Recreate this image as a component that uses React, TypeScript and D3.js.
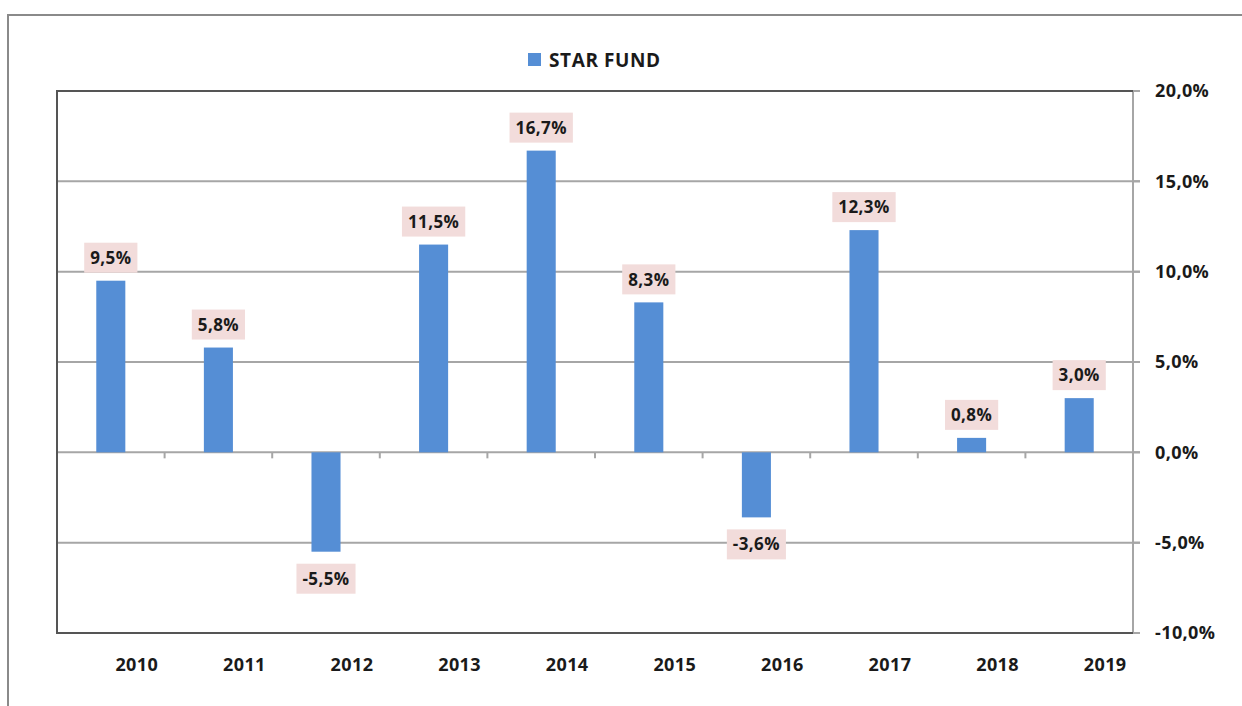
import React, { useEffect, useRef } from "react";
import * as d3 from "d3";

const years = ["2010", "2011", "2012", "2013", "2014", "2015", "2016", "2017", "2018", "2019"];
const returns = [9.5, 5.8, -5.5, 11.5, 16.7, 8.3, -3.6, 12.3, 0.8, 3.0];
const yTicks = [-10, -5, 0, 5, 10, 15, 20];
const seriesName = "STAR FUND";

const W = 1242;
const H = 706;
const FONT = "'Open Sans', sans-serif";

const fmt = (v: number) => v.toFixed(1).replace(".", ",") + "%";

export default function App() {
  const ref = useRef<SVGSVGElement | null>(null);

  useEffect(() => {
    const svg = d3.select(ref.current);
    svg.selectAll("*").remove();

    const left = 57, right = 1133, top = 91, bottom = 633;
    const x = d3.scaleBand<string>().domain(years).range([left, right]).padding(0);
    const y = d3.scaleLinear().domain([-10, 20]).range([bottom, top]);
    const barW = x.step() * 0.27;

    // outer frame
    svg.append("rect").attr("x", 8).attr("y", 15).attr("width", W).attr("height", H)
      .attr("fill", "white").attr("stroke", "#8a8a8a").attr("stroke-width", 2);

    // gridlines
    svg.append("g").selectAll("line").data(yTicks.filter(t => t !== -10 && t !== 20)).join("line")
      .attr("x1", left).attr("x2", right + 7)
      .attr("y1", d => y(d)).attr("y2", d => y(d))
      .attr("stroke", "#a6a6a6").attr("stroke-width", 2);

    // right axis line + ticks
    svg.append("line").attr("x1", right).attr("x2", right).attr("y1", top).attr("y2", bottom)
      .attr("stroke", "#a6a6a6").attr("stroke-width", 2);
    svg.append("g").selectAll("line").data(yTicks).join("line")
      .attr("x1", right).attr("x2", right + 7)
      .attr("y1", d => y(d)).attr("y2", d => y(d))
      .attr("stroke", "#a6a6a6").attr("stroke-width", 2);

    // plot frame (left, top, bottom)
    svg.append("path")
      .attr("d", `M${right},${top}H${left}V${bottom}H${right}`)
      .attr("fill", "none").attr("stroke", "#555").attr("stroke-width", 2);

    // x-axis tick marks at zero line
    svg.append("g").selectAll("line").data(years.slice(1)).join("line")
      .attr("x1", d => x(d)!).attr("x2", d => x(d)!)
      .attr("y1", y(0)).attr("y2", y(0) + 6)
      .attr("stroke", "#a6a6a6").attr("stroke-width", 2);

    // bars
    svg.append("g").selectAll("rect").data(returns).join("rect")
      .attr("x", (d, i) => x(years[i])! + x.bandwidth() / 2 - barW / 2)
      .attr("width", barW)
      .attr("y", d => Math.min(y(d), y(0)))
      .attr("height", d => Math.abs(y(d) - y(0)))
      .attr("fill", "#558ed5");

    // data labels
    const lg = svg.append("g");
    returns.forEach((v, i) => {
      const cx = x(years[i])! + x.bandwidth() / 2;
      const cy = v >= 0 ? y(v) - 23 : y(v) + 27;
      const g = lg.append("g");
      const r = g.append("rect").attr("fill", "#f2dcdb");
      const t = g.append("text").attr("x", cx).attr("y", cy).attr("dy", "0.36em")
        .attr("text-anchor", "middle").attr("font-family", FONT).attr("font-weight", 700)
        .attr("font-size", 17).attr("letter-spacing", 0.4).attr("fill", "#1a1a1a").text(fmt(v));
      const tw = (t.node() as SVGTextElement).getComputedTextLength();
      const bw = tw + 12, bh = 30;
      r.attr("x", cx - bw / 2).attr("y", cy - bh / 2).attr("width", bw).attr("height", bh);
    });

    // y tick labels
    svg.append("g").selectAll("text").data(yTicks).join("text")
      .attr("x", 1155).attr("y", d => y(d)).attr("dy", "0.36em")
      .attr("font-family", FONT).attr("font-weight", 700).attr("font-size", 18)
      .attr("letter-spacing", 0.4)
      .attr("fill", "#1a1a1a").text(d => fmt(d));

    // x labels
    svg.append("g").selectAll("text").data(years).join("text")
      .attr("x", d => x(d)! + x.bandwidth() / 2 + 26).attr("y", 665).attr("dy", "0.36em")
      .attr("text-anchor", "middle")
      .attr("font-family", FONT).attr("font-weight", 700).attr("font-size", 18)
      .attr("letter-spacing", 0.4)
      .attr("fill", "#1a1a1a").text(d => d);

    // legend
    svg.append("rect").attr("x", 528).attr("y", 53).attr("width", 13).attr("height", 13).attr("fill", "#558ed5");
    svg.append("text").attr("x", 549).attr("y", 60).attr("dy", "0.36em")
      .attr("font-family", FONT).attr("font-weight", 700).attr("font-size", 19)
      .attr("letter-spacing", 0.6)
      .attr("fill", "#1a1a1a").text(seriesName);
  }, []);

  return (
    <svg ref={ref} width={W} height={H}
      style={{ position: "absolute", left: 0, top: 0, display: "block", background: "white" }} />
  );
}
